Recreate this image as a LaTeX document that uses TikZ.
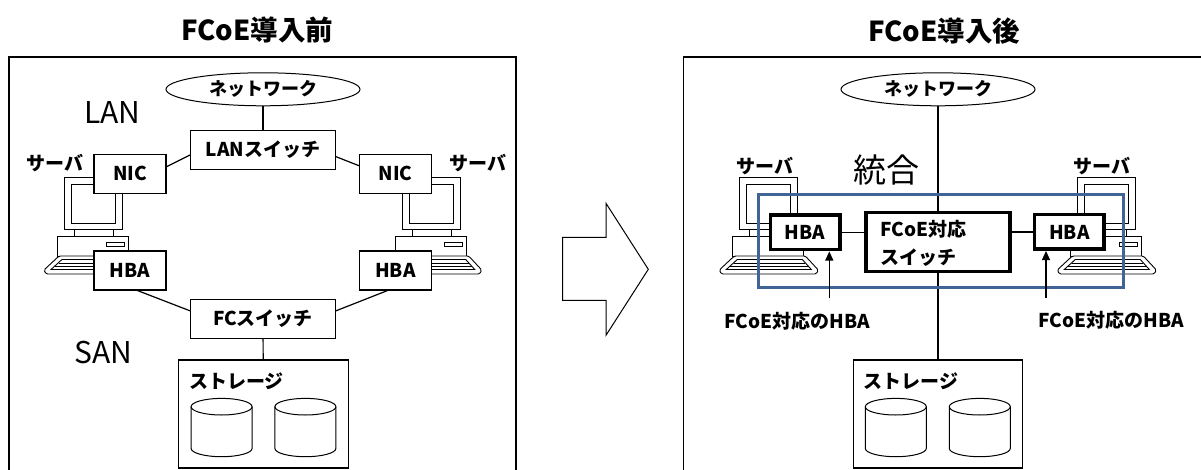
\documentclass[tikz,border=0pt]{standalone}
\usepackage{fontspec}
\setmainfont{Noto Sans CJK JP}
\usetikzlibrary{shapes.geometric,arrows.meta}

\definecolor{frameblue}{RGB}{64,100,150}

\tikzset{
  box/.style={draw, fill=white, line width=1.1pt, inner sep=0pt,
    font=\bfseries\fontsize{19}{22}\selectfont},
  thickbox/.style={draw, fill=white, line width=3.5pt, inner sep=0pt,
    font=\bfseries\fontsize{19}{22}\selectfont},
  cloud/.style={draw, ellipse, fill=white, line width=1pt, inner sep=0pt,
    font=\bfseries\fontsize{18}{22}\selectfont},
  link/.style={line width=1.2pt},
  lbl/.style={inner sep=0pt, font=\bfseries\fontsize{19}{22}\selectfont},
  titlelbl/.style={inner sep=0pt, font=\bfseries\fontsize{27.5}{30}\selectfont},
  biglbl/.style={inner sep=0pt, font=\fontsize{30}{34}\selectfont},
  panel/.style={line width=1.1pt},
  icon/.style={line width=0.9pt},
}

% desktop server: monitor, base unit and keyboard; #1 = left edge of the monitor
\newcommand\srvicon[1]{%
  \begin{scope}[shift={(#1,0)}, icon]
    \draw[fill=white] (0,177) rectangle (58,229);
    \draw (7,184) rectangle (51,223);
    \draw[fill=white] (10,229) rectangle (49,236.5);
    \draw[fill=white] (-7,236.5) rectangle (64,256);
    \draw (42,242) rectangle (60,246);
    \draw[fill=white, rounded corners=1.5pt]
      (-5,256) -- (66,256) -- (79,270) -- (77,274) -- (-18,274) -- (-20,270) -- cycle;
    \draw (-2,259.5) -- (63,259.5) -- (72,269.5) -- (-13,269.5) -- cycle;
    \draw (-5,263) -- (66,263);
    \draw (-9,266.5) -- (69,266.5);
  \end{scope}}

% disk drum; #1 = centre x
\newcommand\drum[1]{%
  \draw[line width=1pt, fill=white] (#1-30.5,406.7) -- (#1-30.5,448.4)
    arc[start angle=180, end angle=360, x radius=30.5pt, y radius=8.3pt]
    -- (#1+30.5,406.7);
  \draw[line width=1pt] (#1,406.7) ellipse[x radius=30.5pt, y radius=8.3pt];}

\begin{document}
\begin{tikzpicture}[x=1pt, y=-1pt]
\useasboundingbox (0,0) rectangle (1201,470);

% ---------- before ----------
\draw[panel] (9,470) -- (9,57) -- (516,57) -- (516,470);
\node[titlelbl] (t1) at (257,30) {FCoE導入前};

\srvicon{64}
\srvicon{402.7}

\node[cloud, minimum width=194pt, minimum height=33pt] (netL) at (263,89.3) {ネットワーク};
\node[box, minimum width=145pt, minimum height=39pt] (lanSw) at (263,149.7) {LANスイッチ};
\node[box, minimum width=72pt, minimum height=39pt] (nicL) at (130,173.7) {NIC};
\node[box, minimum width=72pt, minimum height=39pt] (nicR) at (395.5,173.7) {NIC};
\node[box, minimum width=72pt, minimum height=39pt] (hbaL) at (130,270.5) {HBA};
\node[box, minimum width=72pt, minimum height=39pt] (hbaR) at (395.5,270.5) {HBA};
\node[box, minimum width=145pt, minimum height=39pt] (fcSw) at (263,318.8) {FCスイッチ};
\node[box, minimum width=169.5pt, minimum height=108pt] (stoL) at (263.4,414) {};
\node[lbl] (stoLtxt) at (236.6,381) {ストレージ};
\drum{221.6}
\drum{305.4}

\node[lbl] (srvL1) at (55,163) {サーバ};
\node[lbl] (srvL2) at (478,163) {サーバ};
\node[biglbl] (lan) at (112.5,113) {LAN};
\node[biglbl] (san) at (103.6,353) {SAN};

\draw[link] (netL) -- (lanSw);
\draw[link] ([yshift=7pt]nicL.east) -- ([yshift=-5.3pt]lanSw.west);
\draw[link] ([yshift=-7pt]lanSw.east) -- ([yshift=8pt]nicR.west);
\draw[link] ([xshift=7.5pt]hbaL.south) -- ([yshift=8pt]fcSw.west);
\draw[link] ([xshift=-8pt]hbaR.south) -- ([yshift=8pt]fcSw.east);
\draw[link] (fcSw) -- (stoL);

% ---------- transition arrow ----------
\draw[line width=1pt] (562.7,237.3) -- (606,237.3) -- (606,203.3) -- (648.3,269.3)
  -- (606,335.3) -- (606,300.3) -- (562.7,300.3) -- cycle;

% ---------- after ----------
\draw[panel] (683.6,470) -- (683.6,57) -- (1201,57);
\node[titlelbl] (t2) at (944,31) {FCoE導入後};

\srvicon{739.3}
\srvicon{1077.3}

\node[cloud, minimum width=194pt, minimum height=33pt] (netR) at (938,89.3) {ネットワーク};
\node[lbl] (srvR1) at (765,166) {サーバ};
\node[lbl] (srvR2) at (1101.7,166) {サーバ};
\node[inner sep=0pt, font=\fontsize{33}{36}\selectfont] (togo) at (886.5,170) {統合};

\node[thickbox, minimum width=69.5pt, minimum height=34.5pt] (hba2L) at (805,232.5) {HBA};
\node[thickbox, minimum width=69.5pt, minimum height=34.5pt] (hba2R) at (1069.3,232) {HBA};
\node[thickbox, minimum width=144pt, minimum height=59pt] (fcoeSw) at (938,242) {};
\node[lbl, anchor=west, align=left, font=\bfseries\fontsize{19}{27.5}\selectfont]
  (fcoeTxt) at (880,243.5) {FCoE対応\\スイッチ};
\node[box, minimum width=169.5pt, minimum height=108pt] (stoR) at (938,414) {};
\node[lbl] (stoRtxt) at (911,381) {ストレージ};
\drum{895.8}
\drum{979.8}

\draw[link] (netR) -- (fcoeSw);
\draw[link] (fcoeSw) -- (stoR);
\draw[link] (hba2L.east) -- (hba2L.east -| fcoeSw.west);
\draw[link] (hba2R.west) -- (hba2R.west -| fcoeSw.east);

\draw[frameblue, line width=3pt] (758,195) rectangle (1123,287);

\coordinate (aL) at (829.3,298.3);
\coordinate (aR) at (1046,298.3);
\draw[link, -{Triangle[length=9pt, width=8pt]}] (aL) -- (aL |- hba2L.south);
\draw[link, -{Triangle[length=9pt, width=8pt]}] (aR) -- (aR |- hba2R.south);
\node[lbl] (capL) at (797.4,321.7) {FCoE対応のHBA};
\node[lbl] (capR) at (1111,320) {FCoE対応のHBA};
\end{tikzpicture}
\end{document}
